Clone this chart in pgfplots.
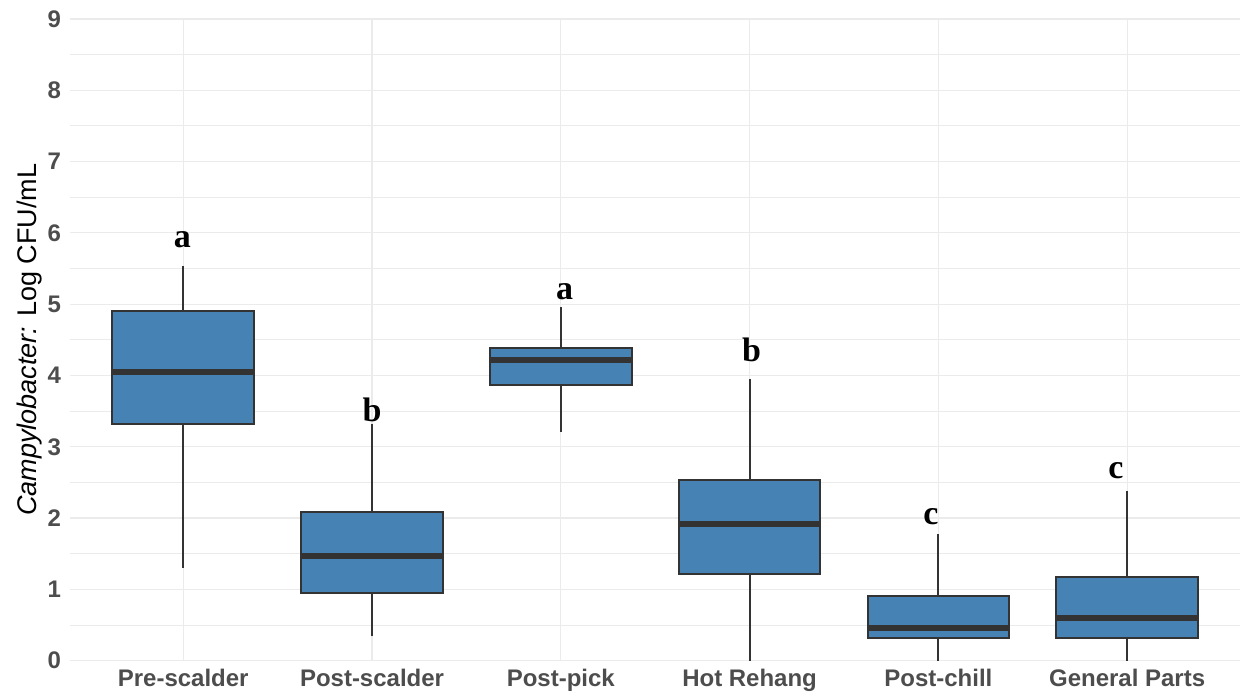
\documentclass[border=0pt]{standalone}
\usepackage{fontspec}
\setmainfont{Liberation Sans}
\newfontfamily\serifbf{Liberation Serif}
\usepackage{pgfplots}
\pgfplotsset{compat=1.18}
\usepgfplotslibrary{statistics}
\definecolor{boxfill}{HTML}{4682B4}
\definecolor{boxline}{HTML}{333333}
\definecolor{gridc}{HTML}{EBEBEB}
\definecolor{tickc}{HTML}{4D4D4D}
\begin{document}
\begin{tikzpicture}
\begin{axis}[
  scale only axis, width=585.5pt, height=321pt,
  xmin=0.4, xmax=6.6, ymin=0, ymax=9,
  axis line style={draw=none}, major tick length=0pt, minor tick length=0pt,
  ytick={0,1,...,9}, minor ytick={0.5,1.5,...,8.5},
  xtick={1,2,3,4,5,6},
  xticklabels={Pre-scalder,Post-scalder,Post-pick,Hot Rehang,Post-chill,General Parts},
  xmajorgrids, ymajorgrids, yminorgrids,
  grid style={gridc, line width=0.6pt},
  minor grid style={gridc, line width=0.5pt},
  /pgf/number format/assume math mode=true,
  ticklabel style={font=\bfseries\fontsize{12}{14}\selectfont, text=tickc},
  yticklabel style={xshift=-1pt},
  xticklabel style={yshift=-0.5pt},
  ylabel={\fontsize{13.5}{15}\selectfont\textit{Campylobacter:} Log CFU/mL},
  ylabel style={yshift=-4pt},
  boxplot/draw direction=y,
  boxplot/every median/.style={line width=3pt},
  boxplot/every box/.style={line width=1pt},
  boxplot/every whisker/.style={line width=1pt},
]
\addplot[draw=boxline, fill=boxfill, solid, mark=none, boxplot prepared={draw position=1, lower whisker=1.30, lower quartile=3.32, median=4.05, upper quartile=4.91, upper whisker=5.54, box extend=0.75, whisker extend=0}] coordinates {};
\addplot[draw=boxline, fill=boxfill, solid, mark=none, boxplot prepared={draw position=2, lower whisker=0.34, lower quartile=0.95, median=1.47, upper quartile=2.09, upper whisker=3.32, box extend=0.75, whisker extend=0}] coordinates {};
\addplot[draw=boxline, fill=boxfill, solid, mark=none, boxplot prepared={draw position=3, lower whisker=3.21, lower quartile=3.86, median=4.22, upper quartile=4.39, upper whisker=4.96, box extend=0.75, whisker extend=0}] coordinates {};
\addplot[draw=boxline, fill=boxfill, solid, mark=none, boxplot prepared={draw position=4, lower whisker=0.0, lower quartile=1.22, median=1.92, upper quartile=2.54, upper whisker=3.95, box extend=0.75, whisker extend=0}] coordinates {};
\addplot[draw=boxline, fill=boxfill, solid, mark=none, boxplot prepared={draw position=5, lower whisker=0.0, lower quartile=0.32, median=0.46, upper quartile=0.91, upper whisker=1.77, box extend=0.75, whisker extend=0}] coordinates {};
\addplot[draw=boxline, fill=boxfill, solid, mark=none, boxplot prepared={draw position=6, lower whisker=0.0, lower quartile=0.32, median=0.60, upper quartile=1.18, upper whisker=2.38, box extend=0.75, whisker extend=0}] coordinates {};
\begin{scope}[every node/.style={anchor=base, inner sep=0pt, font=\serifbf\bfseries\fontsize{17}{17}\selectfont}]
\node at (axis cs:0.995,5.80) {a};
\node at (axis cs:2.0,3.35) {b};
\node at (axis cs:3.02,5.06) {a};
\node at (axis cs:4.01,4.19) {b};
\node at (axis cs:4.96,1.91) {c};
\node at (axis cs:5.94,2.55) {c};
\end{scope}
\end{axis}
\path ([xshift=-35pt,yshift=-16.5pt]current axis.south west) rectangle ([yshift=9.5pt]current axis.north east);
\end{tikzpicture}
\end{document}
